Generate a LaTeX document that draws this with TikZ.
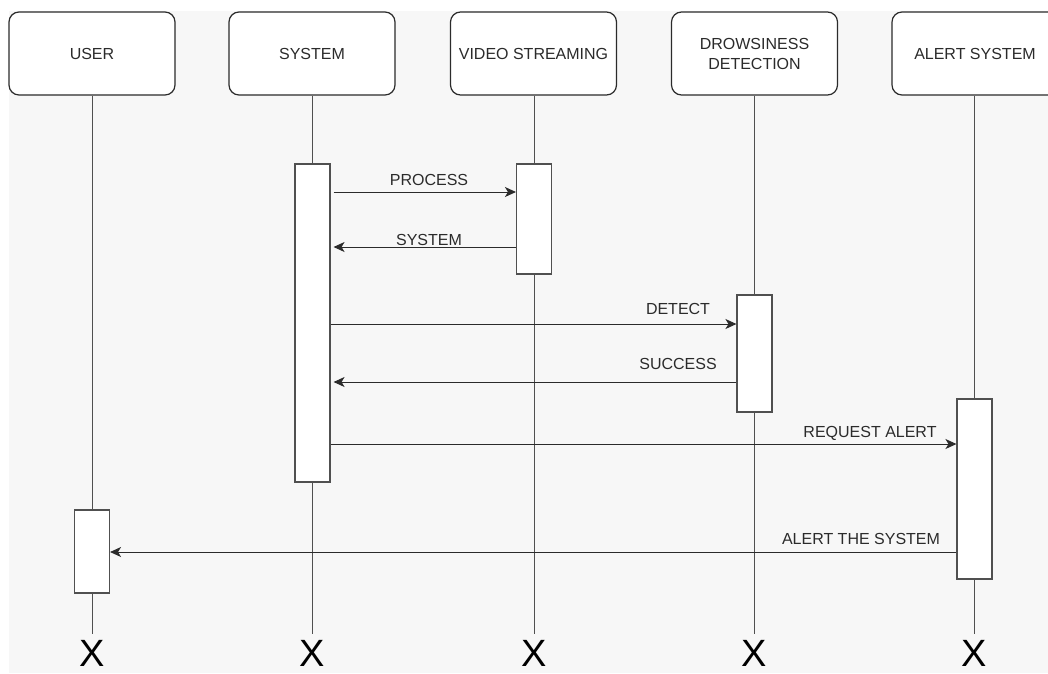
\documentclass[tikz,border=0pt]{standalone}
\usepackage{fontspec}
\setmainfont{Liberation Sans}
\usetikzlibrary{arrows.meta}
\definecolor{bg}{HTML}{F7F7F7}
\definecolor{ink}{HTML}{2B2B2B}
\definecolor{wire}{HTML}{505050}
\begin{document}
\begin{tikzpicture}[x=1pt,y=-1pt,
  head/.style={draw=ink, line width=1.2pt, rounded corners=10pt, fill=white,
    minimum width=166pt, minimum height=83pt, inner sep=0pt, align=center,
    text=ink, font=\fontsize{16}{20}\selectfont},
  act/.style={draw=wire, line width=1.1pt, fill=white, minimum width=35pt, inner sep=0pt},
  life/.style={draw=wire, line width=1pt, shorten >=6pt},
  msg/.style={draw=ink, line width=1pt, -{Stealth[length=11pt,width=10pt,inset=3pt]}},
  lbl/.style={anchor=base, inner sep=0pt, text=ink, font=\fontsize{16}{18}\selectfont},
  endx/.style={anchor=base, inner sep=0pt, text=black, font=\fontsize{38}{38}\selectfont}]
\useasboundingbox (0,0) rectangle (1048,673);
\clip (0,0) rectangle (1048,673);
\fill[bg] (9,11) rectangle (1048,673);

% participants
\node[head] (user)  at (92,53.5)    {USER};
\node[head] (sys)   at (312,53.5)   {SYSTEM};
\node[head] (video) at (533.5,53.5) {VIDEO STREAMING};
\node[head] (drow)  at (754.5,53.5) {DROWSINESS\\DETECTION};
\node[head] (alert) at (975,53.5)   {ALERT SYSTEM};

% destruction marks
\node[endx] (xuser)  at (92,666)  {X};
\node[endx] (xsys)   at (312,666) {X};
\node[endx] (xvideo) at (534,666) {X};
\node[endx] (xdrow)  at (754,666) {X};
\node[endx] (xalert) at (974,666) {X};

% lifelines
\draw[life] (user.south)  -- (xuser.north);
\draw[life] (sys.south)   -- (xsys.north);
\draw[life] (video.south -| xvideo.north) -- (xvideo.north);
\draw[life] (drow.south -| xdrow.north) -- (xdrow.north);
\draw[life] (alert.south -| xalert.north) -- (xalert.north);

% activation bars
\node[act, minimum height=318pt] (sa) at (312.5,323)   {};
\node[act, minimum height=110pt] (va) at (534,219)     {};
\node[act, minimum height=117pt] (da) at (754.5,353.5) {};
\node[act, minimum height=180pt] (aa) at (974.5,489)   {};
\node[act, minimum height=83pt]  (ua) at (92,551.5)    {};

% messages
\draw[msg] ([xshift=3pt]sa.east |- 0,192) -- (va.west |- 0,192);
\draw[msg] (va.west |- 0,247) -- ([xshift=3pt]sa.east |- 0,247);
\draw[msg] (sa.east |- 0,324) -- (da.west |- 0,324);
\draw[msg] (da.west |- 0,382) -- ([xshift=3pt]sa.east |- 0,382);
\draw[msg] (sa.east |- 0,444) -- (aa.west |- 0,444);
\draw[msg] (aa.west |- 0,552) -- (ua.east |- 0,552);

% message labels
\node[lbl] (lprocess) at (429,185)   {PROCESS};
\node[lbl] (lsystem)  at (429,245)   {SYSTEM};
\node[lbl] (ldetect)  at (678,314)   {DETECT};
\node[lbl] (lsuccess) at (678,369)   {SUCCESS};
\node[lbl] (lrequest) at (870,437)   {REQUEST ALERT};
\node[lbl] (lalert)   at (861,544.5) {ALERT THE SYSTEM};
\end{tikzpicture}
\end{document}
